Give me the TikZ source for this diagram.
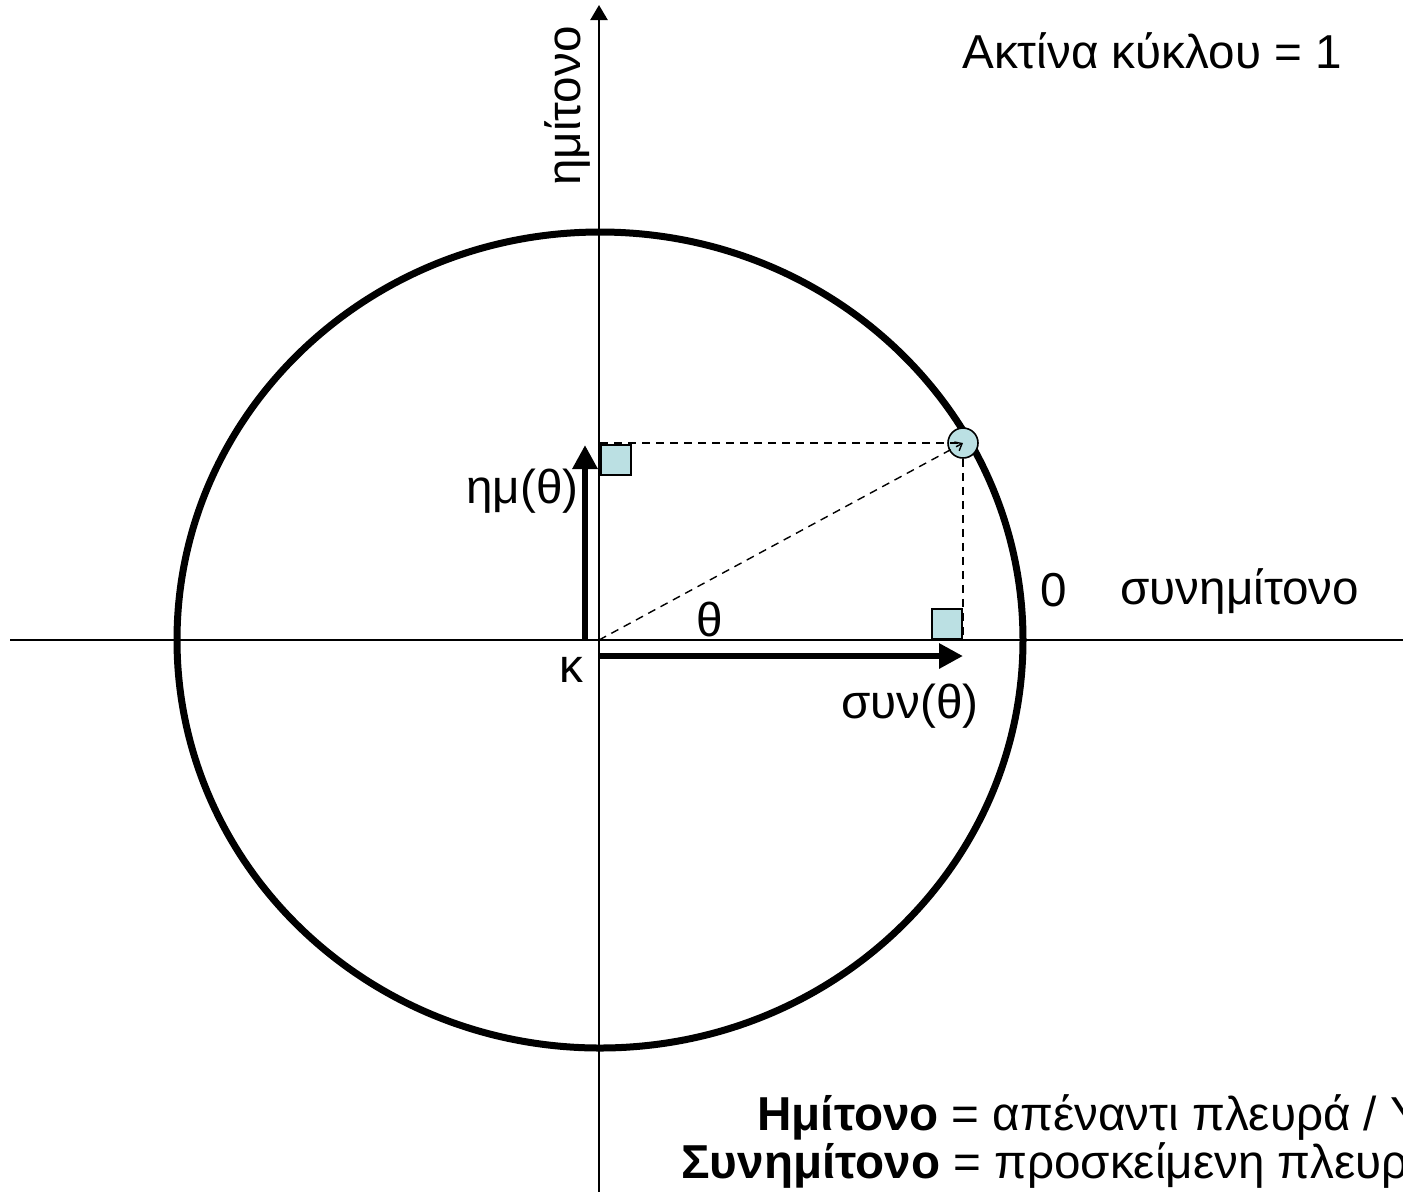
\documentclass[tikz,border=0pt]{standalone}
\usepackage{fontspec}
\setmainfont{Liberation Sans}
\usetikzlibrary{arrows.meta}
\definecolor{ptblue}{RGB}{187,224,227}
\tikzset{
  lbl/.style={inner sep=0pt, font=\fontsize{23.8}{28}\selectfont},
  axis/.style={line width=1.2pt, -{Triangle[length=7.5pt,width=8.5pt]}},
  thickarrow/.style={line width=3pt, -{Triangle[length=12pt,width=12pt]}},
  helper/.style={line width=0.7pt, dash pattern=on 4pt off 3pt},
  rightbox/.style={draw, line width=0.8pt, fill=ptblue}
}
\begin{document}
\begin{tikzpicture}[x=0.5pt,y=-0.5pt]
\useasboundingbox (0,0) rectangle (1403,1191);
% coordinates
\coordinate (O) at (599,640);
\coordinate (xl) at (10,640);
\coordinate (xr) at (1425,640);
\coordinate (yb) at (599,1200);
\coordinate (yt) at (599,5);
% circle
\draw[line width=3.5pt] (600,640) ellipse [x radius=423, y radius=408];
% axes
\draw[axis] (xl) -- (xr);
\draw[axis] (yb) -- (yt);
% right-angle boxes
\node[rightbox, minimum size=15pt, inner sep=0pt, anchor=north west] (bs) at (600,444) {};
\node[rightbox, minimum size=15pt, inner sep=0pt, anchor=south east] (bc) at (963,640) {};
% point on circle
\node[draw, circle, fill=ptblue, line width=0.8pt, minimum size=15pt, inner sep=0pt] (P) at (963,443) {};
\coordinate (Py) at (600,443);
\coordinate (Px) at (963,640);
% dashed helper lines
\draw[helper] (Py) -- (P.center);
\draw[helper] (P.south) -- (Px);
\draw[helper, -{Straight Barb[length=3pt,width=5pt]}] (O) -- (P.center);
% thick arrows
\coordinate (s0) at (585,640);
\coordinate (s1) at (585,445);
\coordinate (c0) at (600,656);
\coordinate (c1) at (963,656);
\draw[thickarrow] (s0) -- (s1);
\draw[thickarrow] (c0) -- (c1);
% labels
\node[lbl, anchor=base west] (tr) at (962,68) {Ακτίνα κύκλου = 1};
\node[lbl, anchor=base, rotate=90] (ty) at (580,106) {ημίτονο};
\node[lbl, anchor=base west] (tx) at (1120,604) {συνημίτονο};
\node[lbl, anchor=base west] (t0) at (1040,606) {0};
\node[lbl, anchor=base east] (ts) at (579,503) {ημ(θ)};
\node[lbl, anchor=base west] (tk) at (559,682) {κ};
\node[lbl, anchor=base west] (tt) at (696,636) {θ};
\node[lbl, anchor=base east] (tc) at (979,718) {συν(θ)};
\node[lbl, anchor=base west] (l1) at (757,1130) {\textbf{Ημίτονο} = απέναντι πλευρά / Υποτείνουσα};
\node[lbl, anchor=base west] (l2) at (681,1178) {\textbf{Συνημίτονο} = προσκείμενη πλευρά / Υποτείνουσα};
\end{tikzpicture}
\end{document}
